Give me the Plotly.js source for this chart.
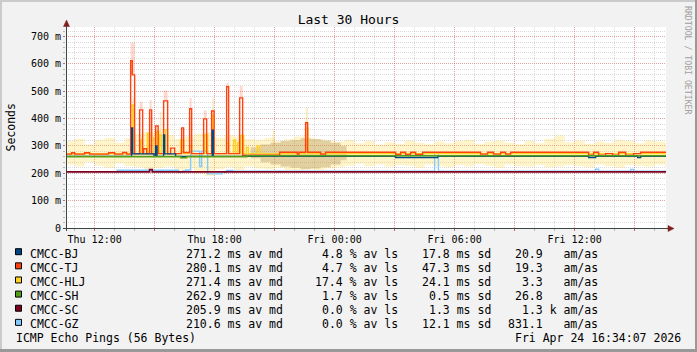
<!DOCTYPE html>
<html><head><meta charset="utf-8">
<script src="https://cdn.plot.ly/plotly-3.0.1.min.js"></script>
<style>html,body{margin:0;padding:0;background:#f2f2f2;overflow:hidden}#chart{width:697px;height:352px}</style>
</head><body><div id="chart"></div>
<script>
// ---------- DATA (time = hours since Thu 2026-04-23 00:00, values in ms) ----------
const START_H = 10.5686, END_H = 40.5686;
const names = ['CMCC-BJ','CMCC-TJ','CMCC-HLJ','CMCC-SH','CMCC-SC','CMCC-GZ'];
const colors = ['#004586','#ff420e','#ffd320','#579d1c','#7e0021','#83caff'];
const avMedian = [271.2, 280.1, 271.4, 262.9, 205.9, 210.6];
const avLoss = [4.8, 4.7, 17.4, 1.7, 0.0, 0.0];
const sdMs = [17.8, 47.3, 24.1, 0.5, 1.3, 12.1];
const amAs = [20.9, 19.3, 3.3, 26.8, 1.3, 831.1];
const amAsUnit = ['', '', '', '', 'k', ''];

const xTickHours = [12, 15, 18, 21, 24, 27, 30, 33, 36, 39];
const xTickText = ['Thu 12:00', '', 'Thu 18:00', '', 'Fri 00:00', '', 'Fri 06:00', '', 'Fri 12:00', ''];
const yTickVals = [0, 100, 200, 300, 400, 500, 600, 700];
const yTickText = ['0', '100 m', '200 m', '300 m', '400 m', '500 m', '600 m', '700 m'];

// median step lines
const bjT = [START_H, 13.85, 13.9, 14.97, 15.05, 15.12, 15.45, 15.5, 16.05, 17.88, 17.93, 27.05, 29.15, 36.7, 37.05, 39.15, 39.3, END_H];
const bjV = [262, 366, 271, 262, 300, 262, 340, 271, 262, 358, 262, 258, 262, 258, 262, 258, 262, 262];

const tjT = [START_H, 10.85, 11.0, 11.5, 11.75, 12.7, 13.0, 13.4, 13.6, 13.8, 13.885, 14.0, 14.25, 14.4, 14.45, 14.6, 14.75, 14.85, 15.05, 15.175, 15.45, 15.65, 15.8, 16.0, 16.35, 16.45, 16.75, 16.85, 17.45, 17.6, 17.85, 17.975, 18.6, 18.7, 19.25, 19.4, 21.25, 22.13, 22.22, 22.55, 22.65, 23.3, 23.55, 27.05, 27.3, 27.55, 27.8, 28.05, 28.4, 31.3, 31.65, 31.95, 32.3, 32.55, 32.8, 36.7, 36.95, 37.2, 37.55, 37.9, 38.2, 38.55, 38.95, 39.3, END_H];
const tjV = [270, 275, 270, 275, 270, 275, 270, 276, 270, 612, 560, 272, 432, 272, 290, 272, 432, 272, 373, 272, 465, 272, 292, 272, 366, 276, 436, 272, 399, 272, 428, 272, 517, 272, 476, 266, 277, 270, 277, 385, 277, 270, 277, 269, 277, 269, 277, 269, 277, 270, 277, 270, 277, 270, 277, 266, 277, 266, 272, 266, 277, 266, 272, 277, 277];

const hljT = [START_H, 13.885, 13.965, 14.3, 14.385, 14.635, 14.715, 14.95, 15.05, 15.1, 15.2, 15.25, 15.35, 15.55, 15.65, 16.3, 16.45, 16.75, 16.85, 17.5, 17.65, 17.885, 17.965, 18.6, 18.7, 18.95, 19.05, 19.15, 19.25, 19.3, 19.45, 19.585, 19.685, 20.135, 20.265, 22.55, 22.665, END_H];
const hljV = [272, 450, 272, 322, 272, 347, 272, 330, 272, 352, 272, 340, 272, 359, 272, 322, 272, 298, 272, 340, 272, 413, 272, 310, 272, 322, 272, 312, 272, 338, 272, 295, 272, 300, 272, 365, 272, 272];

const shT = [START_H, 16.3, 16.6, 19.6, END_H];
const shV = [261, 257, 261, 264, 264];

const scT = [START_H, 14.75, 14.88, END_H];
const scV = [205.5, 214, 205.5, 205.5];

const gzT = [START_H, 13.13, 16.2, 16.4, 16.55, 16.8, 17.25, 17.35, 17.65, 18.385, 18.6, 18.9, 29.0, 29.19, 37.05, 37.2, 38.8, 38.95, END_H];
const gzV = [206, 211, 204, 209, 212, 281, 225, 281, 198, 204, 210, 208, 273, 208, 215, 208, 214, 208, 208];

// smoke (ping spread) bands
const smokeT = [10.5, 11.0, 11.5, 12.0, 12.5, 13.0, 13.5, 14.0, 14.5, 15.0, 15.5, 16.0, 16.5, 17.0, 17.5, 18.0, 18.5, 19.0, 19.5, 20.0, 20.5, 21.0, 21.5, 22.0, 22.5, 23.0, 23.5, 24.0, 24.5, 25.0, 25.5, 26.0, 26.5, 27.0, 27.5, 28.0, 28.5, 29.0, 29.5, 30.0, 30.5, 31.0, 31.5, 32.0, 32.5, 33.0, 33.5, 34.0, 34.5, 35.0, 35.5, 36.0, 36.5, 37.0, 37.5, 38.0, 38.5, 39.0, 39.5, 40.0, 40.5, END_H];
const smokeHi = [318, 326, 305, 322, 330, 312, 328, 345, 350, 360, 340, 325, 335, 345, 350, 330, 340, 335, 325, 322, 330, 318, 325, 335, 330, 325, 320, 315, 322, 310, 318, 305, 314, 308, 320, 312, 306, 316, 310, 318, 322, 308, 315, 320, 312, 306, 318, 310, 326, 338, 314, 320, 308, 316, 312, 322, 318, 310, 320, 316, 312, 312];
const smokeLo = [232, 225, 240, 228, 220, 236, 226, 222, 215, 220, 225, 210, 218, 200, 190, 215, 222, 212, 225, 218, 215, 220, 212, 210, 215, 212, 218, 222, 228, 235, 226, 232, 224, 230, 228, 220, 232, 226, 222, 230, 225, 234, 228, 220, 232, 226, 224, 230, 222, 225, 230, 226, 222, 232, 226, 220, 230, 228, 224, 232, 226, 226];

const denseT = [19.8, 20.3, 20.8, 21.3, 21.8, 22.3, 22.8, 23.3, 23.8, 24.3, 24.6];
const denseHi = [295, 305, 312, 318, 322, 328, 325, 320, 312, 300, 300];
const denseLo = [255, 240, 232, 225, 220, 215, 218, 222, 232, 248, 248];

const tjSpikeStart = [13.8, 14.25, 14.75, 15.45, 16.75, 17.45, 18.6, 19.25];
const tjSpikeEnd = [14.0, 14.4, 14.85, 15.65, 16.85, 17.6, 18.7, 19.4];
const tjSpikeLo = [560, 432, 432, 465, 436, 399, 517, 476];
const tjSpikeHi = [678, 462, 468, 503, 475, 430, 531, 519];

const hljSpikeStart = [13.88, 15.25, 17.88, 20.9, 22.55];
const hljSpikeEnd = [13.97, 15.35, 17.97, 21.0, 22.67];
const hljSpikeLo = [300, 300, 300, 300, 300];
const hljSpikeHi = [475, 425, 475, 360, 440];

// ---------- helpers ----------
const BASE = Date.UTC(2026, 3, 23, 0, 0, 0);
function hd(h) {
  const d = new Date(BASE + Math.round(h * 3600000));
  return d.toISOString().replace('T', ' ').replace('Z', '');
}
const px = x => (x - 66) / 600;
const py = y => (228 - y) / 201;
const FONT = 'DejaVu Sans Mono';
const NB = '\u00a0';
const LW = 1.4;

function stepLine(t, v, color, width) {
  return {type: 'scatter', mode: 'lines', x: t.map(hd), y: v, line: {shape: 'hv', color: color, width: width}, hoverinfo: 'skip', showlegend: false};
}
function band(t, lo, hi, fill) {
  return [
    {type: 'scatter', mode: 'lines', x: t.map(hd), y: lo, line: {shape: 'hv', width: 0, color: 'rgba(0,0,0,0)'}, hoverinfo: 'skip', showlegend: false},
    {type: 'scatter', mode: 'lines', x: t.map(hd), y: hi, line: {shape: 'hv', width: 0, color: 'rgba(0,0,0,0)'}, fill: 'tonexty', fillcolor: fill, hoverinfo: 'skip', showlegend: false}
  ];
}
function spikes(s, e, lo, hi, color) {
  return {type: 'bar', x: s.map((a, i) => hd((a + e[i]) / 2)), y: hi.map((h, i) => h - lo[i]), base: lo,
    width: s.map((a, i) => (e[i] - a) * 3600000), marker: {color: color, line: {width: 0}}, hoverinfo: 'skip', showlegend: false};
}

const traces = [];
traces.push(...band(smokeT, smokeLo, smokeHi, 'rgba(255,211,32,0.24)'));
traces.push(...band(denseT, denseLo, denseHi, 'rgba(165,135,75,0.32)'));
traces.push(spikes(tjSpikeStart, tjSpikeEnd, tjSpikeLo, tjSpikeHi, 'rgba(255,66,14,0.2)'));
traces.push(spikes(hljSpikeStart, hljSpikeEnd, hljSpikeLo, hljSpikeHi, 'rgba(235,195,70,0.28)'));
traces.push(stepLine(gzT, gzV, colors[5], LW));
traces.push(stepLine(scT, scV, colors[4], 1.7));
traces.push(stepLine(hljT, hljV, colors[2], LW));
traces.push(stepLine(tjT, tjV, colors[1], LW));
traces.push(stepLine(bjT, bjV, colors[0], LW));
traces.push(stepLine(shT, shV, colors[3], 1.6));

// ---------- decorations ----------
const shapes = [];
const AXIS = '#3a4744', ARROW = '#7f1f1f';
shapes.push({type: 'line', xref: 'paper', yref: 'paper', x0: px(0), x1: px(697), y0: py(1), y1: py(1), line: {color: '#cbcbcb', width: 2}});
shapes.push({type: 'line', xref: 'paper', yref: 'paper', x0: px(1), x1: px(1), y0: py(0), y1: py(352), line: {color: '#cbcbcb', width: 2}});
shapes.push({type: 'line', xref: 'paper', yref: 'paper', x0: px(0), x1: px(697), y0: py(350.5), y1: py(350.5), line: {color: '#999999', width: 3}});
shapes.push({type: 'line', xref: 'paper', yref: 'paper', x0: px(696), x1: px(696), y0: py(0), y1: py(352), line: {color: '#999999', width: 2}});
shapes.push({type: 'line', xref: 'paper', yref: 'paper', x0: px(66.5), x1: px(66.5), y0: py(231), y1: py(26), line: {color: AXIS, width: 1}});
shapes.push({type: 'line', xref: 'paper', yref: 'paper', x0: px(63), x1: px(669), y0: py(228.5), y1: py(228.5), line: {color: AXIS, width: 1}});
shapes.push({type: 'path', xref: 'paper', yref: 'paper', path: `M${px(66.5)},${py(20)} L${px(63.5)},${py(26.5)} L${px(69.5)},${py(26.5)} Z`, fillcolor: ARROW, line: {color: ARROW, width: 0.5}});
shapes.push({type: 'path', xref: 'paper', yref: 'paper', path: `M${px(674)},${py(228.5)} L${px(668)},${py(225.5)} L${px(668)},${py(231.5)} Z`, fillcolor: ARROW, line: {color: ARROW, width: 0.5}});

const annotations = [];
function ann(text, x, y, xanchor, size, extra) {
  return Object.assign({text: text, xref: 'paper', yref: 'paper', x: px(x), y: py(y), xanchor: xanchor, yanchor: 'middle', showarrow: false,
    borderpad: 0, borderwidth: 0, font: {family: FONT, size: size, color: '#000000'}}, extra || {});
}
names.forEach((n, i) => {
  const yc = 253.5 + 14.13 * i;
  shapes.push({type: 'rect', xref: 'paper', yref: 'paper', x0: px(15.5), x1: px(21.5), y0: py(yc - 4.8), y1: py(yc + 1.2), fillcolor: colors[i], line: {color: '#000000', width: 1}});
  annotations.push(ann(n, 30, yc, 'left', 11.5));
  annotations.push(ann(avMedian[i].toFixed(1) + NB + 'ms' + NB + 'av' + NB + 'md', 185.5, yc, 'left', 11.5));
  annotations.push(ann(avLoss[i].toFixed(1) + NB + '%' + NB + 'av' + NB + 'ls', 397.5, yc, 'right', 11.5));
  annotations.push(ann(sdMs[i].toFixed(1) + NB + 'ms' + NB + 'sd', 491, yc, 'right', 11.5));
  annotations.push(ann(amAs[i].toFixed(1) + NB + (amAsUnit[i] || NB) + NB + 'am/as', 598, yc, 'right', 11.5));
});
annotations.push(ann('ICMP Echo Pings (56 Bytes)', 16, 338.3, 'left', 11.5));
annotations.push(ann('Fri Apr 24 16:34:07 2026', 681, 338.3, 'right', 11.5));
annotations.push(ann('Seconds', 10.5, 128, 'center', 11.5, {textangle: -90}));
annotations.push(ann('RRDTOOL / TOBI OETIKER', 688, 60, 'center', 8.2, {textangle: 90, font: {family: FONT, size: 8.2, color: '#a0a0a0'}}));

const RED = 'rgba(235,60,60,0.34)', GRAY = 'rgba(150,150,150,0.34)';
const layout = {
  width: 697, height: 352,
  margin: {l: 66, r: 31, t: 27, b: 124, pad: 0},
  paper_bgcolor: '#f2f2f2', plot_bgcolor: '#ffffff',
  showlegend: false, barmode: 'overlay',
  title: {text: 'Last 30 Hours', font: {family: FONT, size: 13, color: '#000000'}, x: 0.5, xref: 'container', xanchor: 'center', y: 1 - 19.5 / 352, yref: 'container', yanchor: 'middle'},
  xaxis: {
    type: 'date', range: [hd(START_H), hd(END_H)], fixedrange: true,
    tickmode: 'array', tickvals: xTickHours.map(hd), ticktext: xTickText,
    showgrid: true, gridcolor: RED, griddash: '1px,1px', gridwidth: 1,
    ticks: 'outside', ticklen: 2, tickcolor: 'rgba(222,48,48,0.6)', tickwidth: 1,
    tickfont: {family: FONT, size: 10, color: '#000000'},
    showline: false, zeroline: false,
    minor: {tickmode: 'linear', tick0: hd(0), dtick: 3600000, showgrid: true, gridcolor: GRAY, griddash: '1px,1px', gridwidth: 1, ticks: 'outside', ticklen: 2, tickcolor: 'rgba(143,143,143,0.6)'}
  },
  yaxis: {
    range: [0, 735], fixedrange: true,
    tickmode: 'array', tickvals: yTickVals, ticktext: yTickText,
    showgrid: true, gridcolor: RED, griddash: '1px,1px', gridwidth: 1,
    ticks: 'outside', ticklen: 2, tickcolor: 'rgba(222,48,48,0.6)', tickwidth: 1,
    tickfont: {family: FONT, size: 10, color: '#000000'},
    showline: false, zeroline: false,
    minor: {tickmode: 'linear', tick0: 0, dtick: 20, showgrid: true, gridcolor: GRAY, griddash: '1px,1px', gridwidth: 1, ticks: 'outside', ticklen: 2, tickcolor: 'rgba(143,143,143,0.6)'}
  },
  shapes: shapes,
  annotations: annotations
};
Plotly.newPlot('chart', traces, layout, {staticPlot: true, displayModeBar: false});
</script>
</body></html>
